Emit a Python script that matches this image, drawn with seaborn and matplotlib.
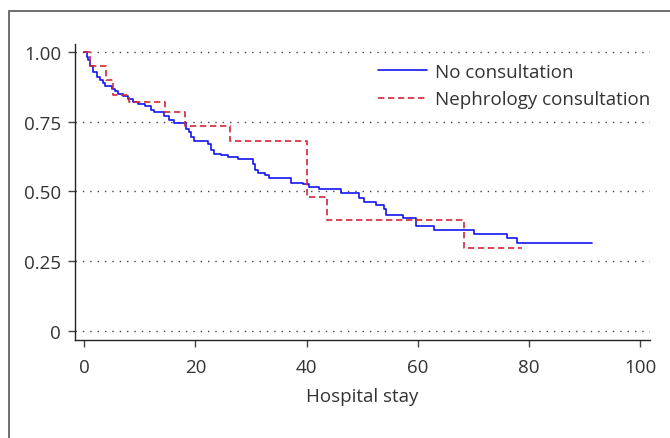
import numpy as np
import pandas as pd
import matplotlib
matplotlib.use("Agg")
import matplotlib.pyplot as plt
from matplotlib.patches import Rectangle
import seaborn as sns

# ---- data ----
groups = ["No consultation", "Nephrology consultation"]

no_consult_t = [0, 0.4, 0.7, 1.0, 1.6, 2.2, 2.8, 3.4, 3.8, 4.9, 5.5, 6.1, 7.0, 7.9,
                8.8, 9.7, 10.9, 12.0, 12.6, 14.4, 15.3, 16.2, 18.3, 18.9, 19.2, 19.8,
                22.2, 22.8, 23.4, 24.6, 25.8, 27.6, 30.3, 30.8, 31.2, 32.6, 33.2, 37.2,
                39.3, 40.5, 42.3, 46.2, 49.5, 50.4, 52.5, 54.0, 54.3, 57.3, 59.7, 63.0,
                70.1, 76.1, 77.8, 91.4]
no_consult_s = [1.0, 0.985, 0.972, 0.95, 0.93, 0.91, 0.90, 0.89, 0.878, 0.868, 0.86,
                0.849, 0.842, 0.832, 0.821, 0.815, 0.806, 0.794, 0.785, 0.771, 0.756,
                0.745, 0.726, 0.713, 0.695, 0.683, 0.672, 0.648, 0.636, 0.630, 0.623,
                0.618, 0.600, 0.577, 0.567, 0.558, 0.549, 0.530, 0.525, 0.515, 0.508,
                0.495, 0.478, 0.462, 0.450, 0.438, 0.415, 0.405, 0.377, 0.363, 0.348,
                0.333, 0.315, 0.315]

nephro_t = [0, 1.1, 3.9, 5.2, 8.0, 14.6, 18.2, 26.2, 40.1, 43.6, 68.3, 78.7]
nephro_s = [1.0, 0.952, 0.900, 0.846, 0.820, 0.785, 0.737, 0.683, 0.481, 0.396, 0.296, 0.296]

x_ticks = [0, 20, 40, 60, 80, 100]
y_ticks = [0, 0.25, 0.50, 0.75, 1.00]
y_tick_labels = ["0", "0.25", "0.50", "0.75", "1.00"]
x_label = "Hospital stay"

df = pd.concat([
    pd.DataFrame({"t": no_consult_t, "S": no_consult_s, "group": groups[0]}),
    pd.DataFrame({"t": nephro_t, "S": nephro_s, "group": groups[1]}),
], ignore_index=True)

# ---- style ----
sns.set_style("white")
plt.rcParams["font.family"] = ["Open Sans", "DejaVu Sans"]
text_color = "#333333"
fs = 13.5

fig = plt.figure(figsize=(6.70, 4.39), dpi=100)
# axes box in pixels: left 75, right 650, bottom 341, top 45
ax = fig.add_axes([75 / 670, 1 - 341 / 439, (650 - 75) / 670, (341 - 45) / 439])

palette = {groups[0]: "#1414f0", groups[1]: "#d0283a"}
dashes = {groups[0]: "", groups[1]: (3.8, 2.2)}

sns.lineplot(data=df, x="t", y="S", hue="group", style="group",
             palette=palette, dashes=dashes, estimator=None,
             drawstyle="steps-post", linewidth=1.2, ax=ax, legend=True)

ax.set_xlim(-1.67, 101.8)
ax.set_ylim(-0.034, 1.03)
ax.set_xticks(x_ticks)
ax.set_yticks(y_ticks)
ax.set_yticklabels(y_tick_labels)
ax.set_xlabel(x_label, fontsize=fs, color=text_color, labelpad=8)
ax.set_ylabel("")

for sp in ["top", "right"]:
    ax.spines[sp].set_visible(False)
for sp in ["left", "bottom"]:
    ax.spines[sp].set_color("#222222")
    ax.spines[sp].set_linewidth(1.0)

ax.tick_params(axis="both", direction="out", length=5, width=1.0,
               color="#444444", labelsize=fs, labelcolor=text_color,
               left=True, bottom=True)
ax.tick_params(axis="x", pad=8)
ax.tick_params(axis="y", pad=5)

ax.yaxis.grid(True, linestyle=(0, (1, 4.3)), color="#444444", linewidth=1.0)
ax.xaxis.grid(False)
ax.set_axisbelow(True)

handles, labels = ax.get_legend_handles_labels()
leg = ax.legend(handles, labels, loc="upper left",
                bbox_to_anchor=(378 / 670, 1 - 64 / 439),
                bbox_transform=fig.transFigure, frameon=False, fontsize=fs,
                handlelength=2.6, handletextpad=0.43, labelspacing=0.5,
                borderpad=0.0, borderaxespad=0.0)
for t in leg.get_texts():
    t.set_color(text_color)

# outer frame (partially visible in reference)
fig.patches.append(Rectangle((8.5 / 670, -0.1), 1.2, 1.1 - 12 / 439,
                             transform=fig.transFigure, fill=False,
                             edgecolor="#555555", linewidth=1.2))

fig.savefig("out.png", dpi=100)
